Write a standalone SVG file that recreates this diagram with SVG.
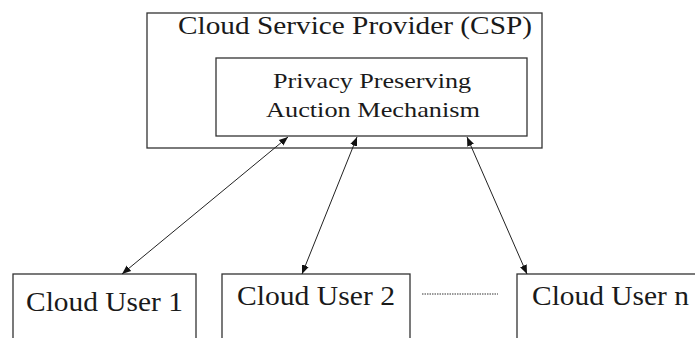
<svg xmlns="http://www.w3.org/2000/svg" width="695" height="338" viewBox="0 0 695 338">
<style>
.box{fill:#fff;stroke:#333;stroke-width:1.3}
.t{fill:#1a1a1a}
.c{stroke:#222;stroke-width:1;fill:none;marker-start:url(#ah);marker-end:url(#ah)}
</style>
<defs>
<marker id="ah" viewBox="0 0 10 10" refX="10" refY="5" markerWidth="9" markerHeight="9" markerUnits="userSpaceOnUse" orient="auto-start-reverse">
<path d="M0,1 L10,5 L0,9 z" fill="#111"/>
</marker>
</defs>
<rect width="695" height="338" fill="#fff"/>
<g id="csp">
<rect class="box" x="147" y="13" width="395" height="135"/>
<text class="t" font-family="Liberation Serif, serif" x="178" y="34" font-size="25" textLength="354" lengthAdjust="spacingAndGlyphs">Cloud Service Provider (CSP)</text>
</g>
<g id="auction">
<rect class="box" x="216" y="58" width="311" height="78"/>
<text class="t" font-family="Liberation Serif, serif" x="273" y="88" font-size="22" textLength="198" lengthAdjust="spacingAndGlyphs">Privacy Preserving</text>
<text class="t" font-family="Liberation Serif, serif" x="266" y="117" font-size="22" textLength="214" lengthAdjust="spacingAndGlyphs">Auction Mechanism</text>
</g>
<g id="user1">
<rect class="box" x="13" y="274" width="183" height="80"/>
<text class="t" font-family="Liberation Serif, serif" x="26" y="311" font-size="27" textLength="157" lengthAdjust="spacingAndGlyphs">Cloud User 1</text>
</g>
<g id="user2">
<rect class="box" x="222" y="274" width="188" height="80"/>
<text class="t" font-family="Liberation Serif, serif" x="237" y="305" font-size="27" textLength="158" lengthAdjust="spacingAndGlyphs">Cloud User 2</text>
</g>
<g id="usern">
<rect class="box" x="517" y="274" width="200" height="80"/>
<text class="t" font-family="Liberation Serif, serif" x="532" y="305" font-size="27" textLength="157" lengthAdjust="spacingAndGlyphs">Cloud User n</text>
</g>
<g id="connectors">
<line class="c" x1="122" y1="274" x2="288" y2="137"/>
<line class="c" x1="302" y1="274" x2="357" y2="137"/>
<line class="c" x1="527" y1="274" x2="467" y2="137"/>
<line x1="422" y1="294" x2="498" y2="294" stroke="#333" stroke-width="1" stroke-dasharray="1.5,1"/>
</g>
</svg>
